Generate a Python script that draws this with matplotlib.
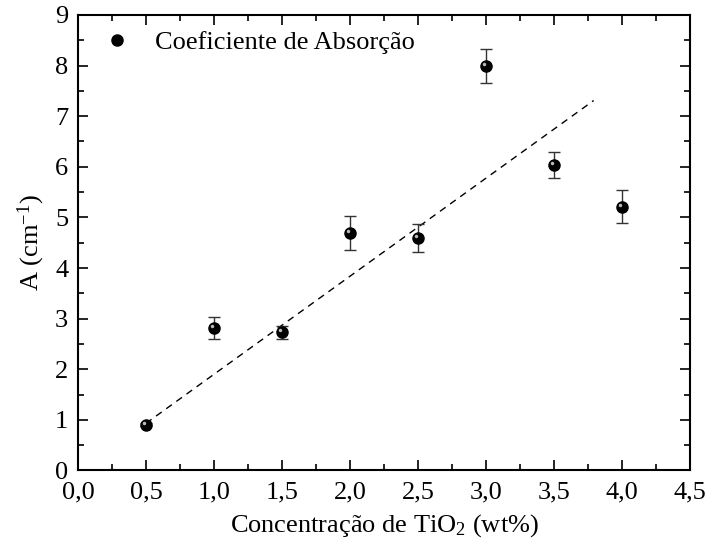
#Bibliotecas
import matplotlib
matplotlib.use("Agg")
import matplotlib.pyplot as plt
import matplotlib.transforms as mtransforms

# Dados
conc = [0.5, 1.0, 1.5, 2.0, 2.5, 3.0, 3.5, 4.0]
absorcao = [0.90, 2.81, 2.73, 4.69, 4.59, 7.99, 6.04, 5.21]
erro = [0.03, 0.22, 0.13, 0.34, 0.28, 0.33, 0.26, 0.33]

# Linha de tendência (tracejada)
tend_x = [0.5, 3.79]
tend_y = [0.93, 7.31]

xticks = [0.0, 0.5, 1.0, 1.5, 2.0, 2.5, 3.0, 3.5, 4.0, 4.5]
xtick_labels = ["0,0", "0,5", "1,0", "1,5", "2,0", "2,5", "3,0", "3,5", "4,0", "4,5"]
yticks = [0, 1, 2, 3, 4, 5, 6, 7, 8, 9]

plt.rcParams["font.family"] = ["Liberation Serif", "DejaVu Serif"]
plt.rcParams["mathtext.fontset"] = "custom"
plt.rcParams["mathtext.rm"] = "Liberation Serif"
plt.rcParams["mathtext.it"] = "Liberation Serif:italic"

fig = plt.figure(figsize=(7.08, 5.47), dpi=100)
ax = fig.add_axes([0.110, 0.140, 0.865, 0.8326])

# Reta tracejada
ax.plot(tend_x, tend_y, color="black", linestyle=(0, (5, 4)), linewidth=1.0, zorder=2)

# Barras de erro
ax.errorbar(conc, absorcao, yerr=erro, fmt="none", ecolor="#333333",
            elinewidth=1.0, capsize=4, capthick=1.0, zorder=3)

# Pontos (esferas pretas com brilho)
ax.plot(conc, absorcao, "o", color="black", markersize=8, zorder=4,
        label="Coeficiente de Absorção")
brilho = ax.transData + mtransforms.ScaledTranslation(-1.5 / 72, 1.5 / 72, fig.dpi_scale_trans)
ax.plot(conc, absorcao, "o", color="#bbbbbb", markersize=2.5, markeredgewidth=0,
        transform=brilho, zorder=5)

ax.set_xlim(0, 4.5)
ax.set_ylim(0, 9)
ax.set_xticks(xticks)
ax.set_xticklabels(xtick_labels)
ax.set_yticks(yticks)
ax.set_xticks([v + 0.25 for v in xticks[:-1]], minor=True)
ax.set_yticks([v + 0.5 for v in yticks[:-1]], minor=True)

ax.tick_params(which="both", direction="in", top=True, right=True, width=1.2, labelsize=19)
ax.tick_params(which="major", length=7)
ax.tick_params(which="minor", length=4)
ax.tick_params(axis="x", which="major", pad=8)
ax.tick_params(axis="y", which="major", pad=7)
for s in ax.spines.values():
    s.set_linewidth(1.5)

ax.set_xlabel("Concentração de TiO$_2$ (wt%)", fontsize=19, labelpad=6)
ax.set_ylabel("A (cm$^{-1}$)", fontsize=19, labelpad=6)

ax.legend(loc="upper left", bbox_to_anchor=(0.017, 1.0), frameon=False, fontsize=19,
          handlelength=1.0, handletextpad=0.93, borderaxespad=0.2, numpoints=1)

fig.savefig("out.png", dpi=100)
